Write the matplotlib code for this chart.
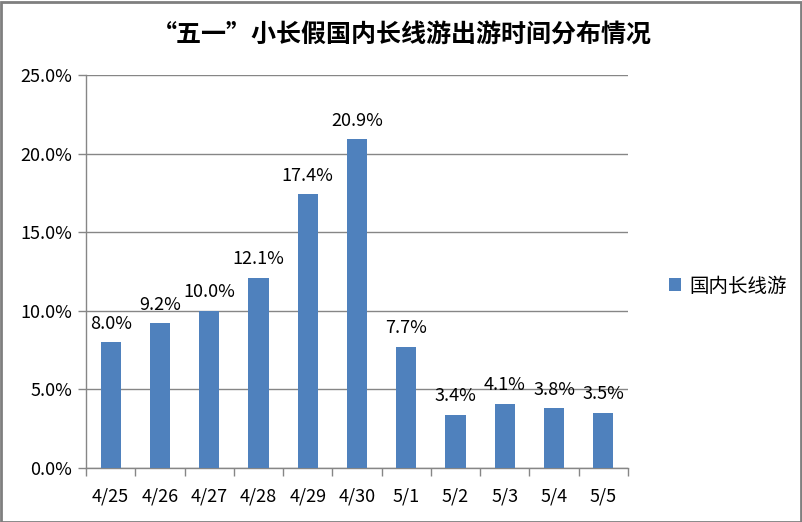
import matplotlib
matplotlib.use("Agg")
import matplotlib.pyplot as plt
from matplotlib.patches import Rectangle
from matplotlib.ticker import FuncFormatter

plt.rcParams['font.family'] = ['Noto Sans CJK SC', 'DejaVu Sans']

categories = ["4/25", "4/26", "4/27", "4/28", "4/29", "4/30", "5/1", "5/2", "5/3", "5/4", "5/5"]
values = [8.0, 9.2, 10.0, 12.1, 17.4, 20.9, 7.7, 3.4, 4.1, 3.8, 3.5]
title = "“五一”小长假国内长线游出游时间分布情况"
series_name = "国内长线游"

W, H = 803, 522
fig = plt.figure(figsize=(W / 100, H / 100), dpi=100)
ax = fig.add_axes([86 / W, 1 - 468 / H, (628 - 86) / W, (468 - 75) / H])

bar_color = "#4F81BD"
grid_color = "#868686"
x = list(range(len(categories)))
bars = ax.bar(x, values, width=0.41, color=bar_color, label=series_name, zorder=3)

ax.set_xlim(-0.5, len(categories) - 0.5)
ax.set_ylim(0, 25)
ax.set_yticks([0, 5, 10, 15, 20, 25])
ax.yaxis.set_major_formatter(FuncFormatter(lambda v, p: f"{v:.1f}%"))
ax.set_xticks(x)
ax.set_xticklabels(categories)
ax.set_xticks([i - 0.5 for i in range(len(categories) + 1)], minor=True)
ax.tick_params(axis='x', which='major', length=0, pad=14, labelsize=13)
ax.tick_params(axis='x', which='minor', length=6, color=grid_color, width=1)
ax.tick_params(axis='y', length=6, color=grid_color, width=1, labelsize=13, pad=4)

ax.grid(axis='y', color=grid_color, linewidth=1, zorder=0)
for s in ['top', 'right']:
    ax.spines[s].set_visible(False)
for s in ['left', 'bottom']:
    ax.spines[s].set_color(grid_color)
    ax.spines[s].set_linewidth(1)

for xi, v in zip(x, values):
    ax.annotate(f"{v:.1f}%", (xi, v), xytext=(0, 7), textcoords='offset points',
                ha='center', va='bottom', fontsize=13)

fig.text(402 / W, 1 - 36 / H, title, ha='center', va='center', fontsize=18, fontweight='bold')

leg = fig.legend(handles=[bars], labels=[series_name], loc='center left',
                 bbox_to_anchor=(652 / W, 1 - 286 / H), frameon=False, fontsize=14,
                 handlelength=0.6, handleheight=0.6, handletextpad=0.4)

fig.patches.append(Rectangle((0.5 / W, 0.5 / H), 1 - 2.5 / W, 1 - 2.5 / H, transform=fig.transFigure,
                             fill=False, edgecolor="#7f7f7f", linewidth=2))

fig.savefig("out.png", dpi=100)
